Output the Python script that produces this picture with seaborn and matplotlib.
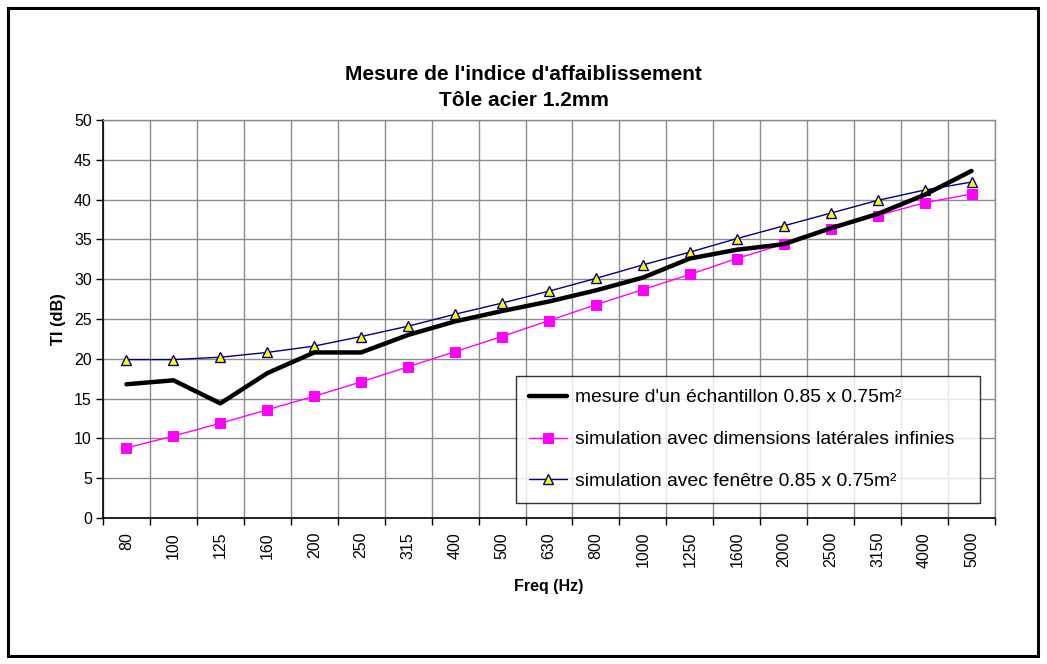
import matplotlib

matplotlib.use("Agg")
import matplotlib.pyplot as plt
import numpy as np
import pandas as pd
import seaborn as sns
from matplotlib.patches import Rectangle

FREQS = ["80", "100", "125", "160", "200", "250", "315", "400", "500", "630",
         "800", "1000", "1250", "1600", "2000", "2500", "3150", "4000", "5000"]
MESURE = [16.8, 17.3, 14.4, 18.2, 20.8, 20.8, 23.0, 24.7, 26.0, 27.2,
          28.6, 30.2, 32.6, 33.7, 34.4, 36.4, 38.2, 40.6, 43.6]
SIM_INFINIE = [8.8, 10.3, 11.9, 13.6, 15.3, 17.1, 19.0, 20.9, 22.8, 24.8,
               26.8, 28.7, 30.6, 32.6, 34.4, 36.3, 38.0, 39.6, 40.7]
SIM_FENETRE = [19.9, 19.9, 20.2, 20.8, 21.6, 22.8, 24.1, 25.6, 27.0, 28.5,
               30.1, 31.8, 33.4, 35.1, 36.7, 38.3, 39.9, 41.2, 42.2]

LABEL_MESURE = "mesure d'un échantillon 0.85 x 0.75m²"
LABEL_INF = "simulation avec dimensions latérales infinies"
LABEL_FEN = "simulation avec fenêtre 0.85 x 0.75m²"

sns.set_theme(style="white")
plt.rcParams["font.family"] = ["Liberation Sans", "DejaVu Sans"]
plt.rcParams.update({"text.color": "black", "axes.labelcolor": "black",
                     "xtick.color": "black", "ytick.color": "black"})

pos = np.arange(len(FREQS))
df = pd.DataFrame({"pos": pos, "mesure": MESURE, "inf": SIM_INFINIE, "fen": SIM_FENETRE})

fig = plt.figure(figsize=(10.47, 6.64), dpi=100)
ax = fig.add_axes([103 / 1047, 1 - 518 / 664, 892 / 1047, 398 / 664])

sns.lineplot(data=df, x="pos", y="mesure", ax=ax, color="black", linewidth=3.2,
             label=LABEL_MESURE, zorder=3)
sns.lineplot(data=df, x="pos", y="inf", ax=ax, color="#FF00FF", linewidth=1.0,
             marker="s", markersize=6.5, markeredgecolor="#FF00FF",
             markerfacecolor="#FF00FF", label=LABEL_INF, zorder=2)
sns.lineplot(data=df, x="pos", y="fen", ax=ax, color="#000080", linewidth=1.0,
             marker="^", markersize=7, markeredgecolor="#000080",
             markerfacecolor="#FFFF00", markeredgewidth=1.0, label=LABEL_FEN, zorder=2)

ax.set_xlim(-0.5, len(FREQS) - 0.5)
ax.set_ylim(0, 50)
ax.set_yticks(np.arange(0, 51, 5))
ax.set_xticks(np.arange(-0.5, len(FREQS), 1))
ax.set_xticklabels([])
ax.set_xticks(pos, minor=True)
ax.set_xticklabels(FREQS, minor=True, rotation=90, fontsize=11.5)
ax.tick_params(axis="x", which="major", direction="out", length=5, width=1, color="black", bottom=True)
ax.tick_params(axis="x", which="minor", length=0, pad=10, bottom=True)
ax.tick_params(axis="y", direction="out", length=5, width=1, color="black", left=True, labelsize=11.5, pad=3)
ax.grid(True, which="major", color="#8c8c8c", linewidth=1.0)
ax.set_axisbelow(True)
for side in ["left", "bottom"]:
    ax.spines[side].set_color("black")
    ax.spines[side].set_linewidth(1.2)
for side in ["top", "right"]:
    ax.spines[side].set_color("#8c8c8c")
    ax.spines[side].set_linewidth(1.0)

ax.set_xlabel("Freq (Hz)", fontweight="bold", fontsize=11.5, labelpad=8)
ax.set_ylabel("TI (dB)", fontweight="bold", fontsize=11.8, labelpad=6)

leg = ax.legend(loc="lower left", bbox_to_anchor=(0.463, 0.038, 0.52, 0.321), mode="expand",
                fontsize=13.9, frameon=True, fancybox=False, edgecolor="black",
                labelspacing=1.26, handlelength=2.0, handletextpad=0.4, borderpad=0.66,
                borderaxespad=0)
leg.get_frame().set_linewidth(1.0)

fig.text(0.5, 1 - 75 / 664, "Mesure de l'indice d'affaiblissement", ha="center", va="center",
         fontsize=15, fontweight="bold")
fig.text(0.5, 1 - 101 / 664, "Tôle acier 1.2mm", ha="center", va="center",
         fontsize=15, fontweight="bold")

fig.patches.append(Rectangle((8 / 1047, 8 / 664), 1030 / 1047, 648 / 664, transform=fig.transFigure,
                             fill=False, edgecolor="black", linewidth=2.2))

fig.savefig("out.png", dpi=100)
